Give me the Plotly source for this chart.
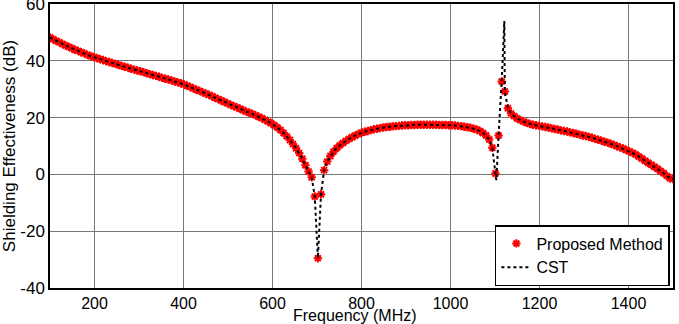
import plotly.graph_objects as go

# Frequency grid (MHz): 100 to 1500 in 7 MHz steps
freq_start = 100
freq_step = 7
proposed_se = [
    48.2, 47.6, 47.0, 46.5, 45.9, 45.4, 44.9, 44.4, 43.9, 43.5,
    43.0, 42.6, 42.1, 41.7, 41.3, 41.0, 40.6, 40.3, 39.9, 39.6,
    39.2, 38.9, 38.5, 38.2, 37.9, 37.6, 37.2, 36.9, 36.6, 36.3,
    36.0, 35.6, 35.3, 35.0, 34.7, 34.4, 34.0, 33.7, 33.4, 33.1,
    32.7, 32.4, 32.1, 31.7, 31.2, 30.8, 30.3, 29.8, 29.4, 28.9,
    28.5, 28.0, 27.5, 27.0, 26.5, 26.0, 25.5, 25.0, 24.5, 24.0,
    23.6, 23.1, 22.6, 22.1, 21.7, 21.3, 20.8, 20.3, 19.8, 19.2,
    18.6, 18.0, 17.3, 16.5, 15.6, 14.6, 13.4, 12.1, 10.7, 9.2,
    7.5, 5.5, 3.2, 1.0, -1.0, -7.8, -29.5, -7.0, 1.5, 4.5,
    6.5, 8.0, 9.2, 10.2, 11.0, 11.8, 12.5, 13.1, 13.7, 14.2,
    14.7, 15.0, 15.3, 15.6, 15.9, 16.1, 16.3, 16.5, 16.7, 16.8,
    16.9, 17.0, 17.1, 17.2, 17.3, 17.3, 17.4, 17.4, 17.5, 17.5,
    17.5, 17.5, 17.5, 17.5, 17.5, 17.4, 17.4, 17.4, 17.3, 17.3,
    17.2, 17.1, 17.0, 16.8, 16.6, 16.4, 16.1, 15.8, 15.3, 14.6,
    13.7, 12.3, 9.4, 0.3, 13.7, 32.7, 29.2, 23.3, 21.5, 20.5,
    19.7, 19.1, 18.6, 18.2, 17.8, 17.5, 17.3, 17.1, 16.9, 16.7,
    16.5, 16.2, 16.0, 15.8, 15.5, 15.3, 15.1, 14.8, 14.6, 14.3,
    14.0, 13.7, 13.5, 13.2, 12.9, 12.5, 12.2, 11.9, 11.5, 11.2,
    10.8, 10.4, 9.9, 9.5, 9.1, 8.6, 8.1, 7.6, 7.0, 6.3,
    5.6, 4.8, 4.1, 3.4, 2.7, 2.0, 1.2, 0.4, -0.5, -1.4,
]
proposed_freq = [freq_start + freq_step * i for i in range(len(proposed_se))] + [1500]
proposed_se = proposed_se + [-1.6]

# Extra CST samples around the resonance (sharp dip and peak)
cst_extra_freq = [1103, 1121]
cst_extra_se = [-2.0, 54.0]

cst_pairs = sorted(list(zip(proposed_freq, proposed_se)) + list(zip(cst_extra_freq, cst_extra_se)))
cst_freq = [p[0] for p in cst_pairs]
cst_se = [p[1] for p in cst_pairs]

x_ticks = [200, 400, 600, 800, 1000, 1200, 1400]
y_ticks = [-40, -20, 0, 20, 40, 60]
y_tick_text = ["-40", "-20", "0", "20", "40", "60"]

font_family = "Liberation Sans, Arial, sans-serif"

fig = go.Figure()
fig.add_trace(go.Scatter(
    x=proposed_freq, y=proposed_se, mode="markers", name="Proposed Method",
    marker=dict(symbol="asterisk-open", size=7, color="red",
                line=dict(color="red", width=2)),
))
fig.add_trace(go.Scatter(
    x=cst_freq, y=cst_se, mode="lines", name="CST",
    line=dict(color="black", width=2, dash="dot"),
))

fig.update_layout(
    width=679, height=324,
    margin=dict(l=50, r=6, t=4, b=36),
    plot_bgcolor="white", paper_bgcolor="white",
    font=dict(family=font_family, size=16, color="black"),
    showlegend=True,
    legend=dict(
        x=0.995, y=0.007, xanchor="right", yanchor="bottom",
        bgcolor="white", bordercolor="black", borderwidth=1.5,
        font=dict(size=16), itemwidth=30,
    ),
    annotations=[dict(
        text="Frequency (MHz)", xref="paper", yref="paper",
        x=0.49, y=-0.097, xanchor="center", yanchor="middle",
        showarrow=False, font=dict(size=16), borderpad=0,
    )],
)
fig.update_xaxes(
    range=[100, 1500], tickvals=x_ticks,
    showgrid=True, gridcolor="#777777", gridwidth=1.2,
    showline=True, linecolor="black", linewidth=1.5, mirror=True,
    ticks="", zeroline=False, automargin=False,
    tickfont=dict(size=16), ticklabeloverflow="allow",
)
fig.update_yaxes(
    range=[-40, 60], tickvals=y_ticks, ticktext=y_tick_text,
    showgrid=True, gridcolor="#777777", gridwidth=1.2,
    showline=True, linecolor="black", linewidth=1.5, mirror=True,
    ticks="", zeroline=False, automargin=False,
    title=dict(text="Shielding Effectiveness (dB)", standoff=0, font=dict(size=17)),
    tickfont=dict(size=17), ticklabeloverflow="allow",
)

fig.write_html("out.html")
